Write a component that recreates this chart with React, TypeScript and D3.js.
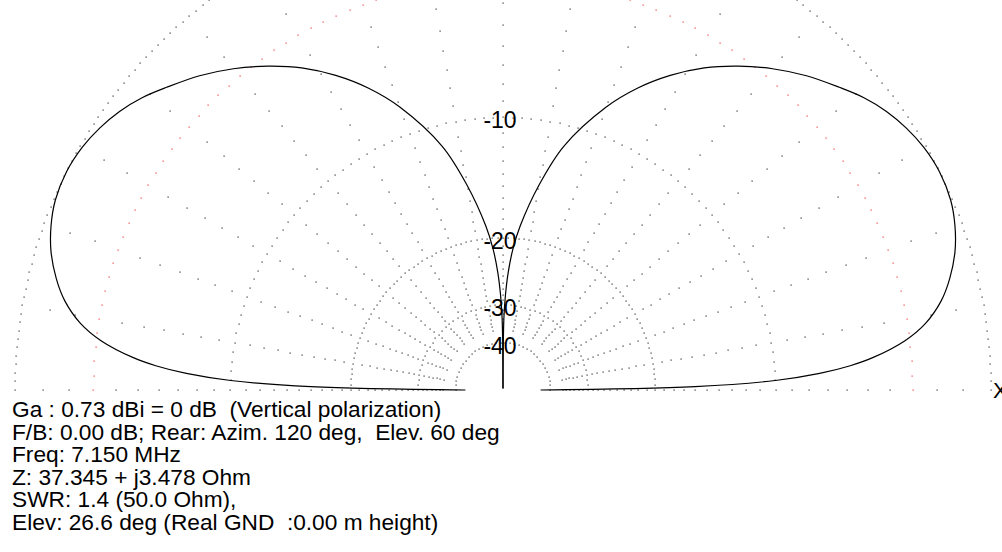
import React from "react";
import * as d3 from "d3";

// Elevation pattern (same for azimuth 0 and 180): elevation deg -> gain dB (relative)
const elevDeg = [0, 1, 2, 3, 4, 5, 7, 9, 11.5, 14, 17, 20, 23, 26.6, 30, 33, 36, 39, 42, 46, 50, 54, 58, 62, 66, 70, 76, 80, 84, 86, 87.5, 88.5, 89.3, 90];
const gainDb = [-44, -16, -10, -7.4, -5.8, -4.7, -3.2, -2.25, -1.5, -1.0, -0.55, -0.25, -0.06, 0, -0.08, -0.25, -0.5, -0.85, -1.3, -1.9, -2.6, -3.4, -4.3, -5.4, -6.7, -8.3, -11.4, -14.6, -18.6, -21.3, -24.5, -28, -33, -99];

const ringDb = [0, -3, -10, -20, -30, -40];
const ringLabels = ["-10", "-20", "-30", "-40"];
const spokeDeg = d3.range(0, 181, 10);
const infoLines = [
  "Ga : 0.73 dBi = 0 dB  (Vertical polarization)",
  "F/B: 0.00 dB; Rear: Azim. 120 deg,  Elev. 60 deg",
  "Freq: 7.150 MHz",
  "Z: 37.345 + j3.478 Ohm",
  "SWR: 1.4 (50.0 Ohm),",
  "Elev: 26.6 deg (Real GND  :0.00 m height)",
];

const W = 1002, H = 552;
const cx = 503, cy = 390, R = 488;
// ARRL log scale: radius shrinks by 0.89 every 2 dB
const rOf = (db: number) => R * Math.pow(0.89, -db / 2);
const ringGap = [8.5, 14.3, 9.5, 5.3, 5, 4.5];

export default function App() {
  const toRad = (d: number) => (d * Math.PI) / 180;
  const pts = elevDeg.map((e, i) => ({ e, db: gainDb[i] }));
  const curve = d3.curveMonotoneY;
  const front = d3
    .lineRadial<{ e: number; db: number }>()
    .curve(d3.curveCatmullRom.alpha(0.5))
    .radius((d) => rOf(d.db))
    .angle((d) => toRad(90 - d.e))(pts) as string;
  const rear = d3
    .lineRadial<{ e: number; db: number }>()
    .curve(d3.curveCatmullRom.alpha(0.5))
    .radius((d) => rOf(d.db))
    .angle((d) => toRad(d.e - 90))(pts) as string;
  void curve;

  const dots: { x: number; y: number; red: boolean }[] = [];
  ringDb.forEach((db, k) => {
    const r = rOf(db);
    const n = Math.round((Math.PI * r) / ringGap[k]);
    d3.range(0, n + 1).forEach((j) => {
      const a = (Math.PI * j) / n;
      dots.push({ x: cx + r * Math.cos(a), y: cy - r * Math.sin(a), red: db === -3 });
    });
  });
  spokeDeg.forEach((a) => {
    d3.range(0, -37, -1).forEach((db) => {
      if (ringDb.includes(db)) return;
      const r = rOf(db);
      dots.push({ x: cx + r * Math.cos(toRad(a)), y: cy - r * Math.sin(toRad(a)), red: false });
    });
  });

  return (
    <svg width={W} height={H} style={{ position: "absolute", left: 0, top: 0, background: "#fff" }}
      fontFamily="Arial, 'Liberation Sans', sans-serif">
      <rect width={W} height={H} fill="#fff" />
      {dots.map((d, i) => (
        <rect key={i} x={Math.round(d.x) - 0.5} y={Math.round(d.y) - 0.5} width={1.2} height={1.2}
          fill={d.red ? "#f04040" : "#333"} />
      ))}
      <g transform={`translate(${cx},${cy})`} fill="none" stroke="#000" strokeWidth={1.2}>
        <path d={front} />
        <path d={rear} />
      </g>
      {ringLabels.map((t) => (
        <text key={t} x={500} y={cy - rOf(+t) + 3} fontSize={23} textAnchor="middle" dominantBaseline="central" fill="#000">
          {t}
        </text>
      ))}
      <text x={993} y={cy} fontSize={22} dominantBaseline="central" fill="#000">X</text>
      {infoLines.map((t, i) => (
        <text key={i} x={12} y={417 + i * 22.6} fontSize={22.7} fill="#000" style={{ whiteSpace: "pre" }}>{t}</text>
      ))}
    </svg>
  );
}
